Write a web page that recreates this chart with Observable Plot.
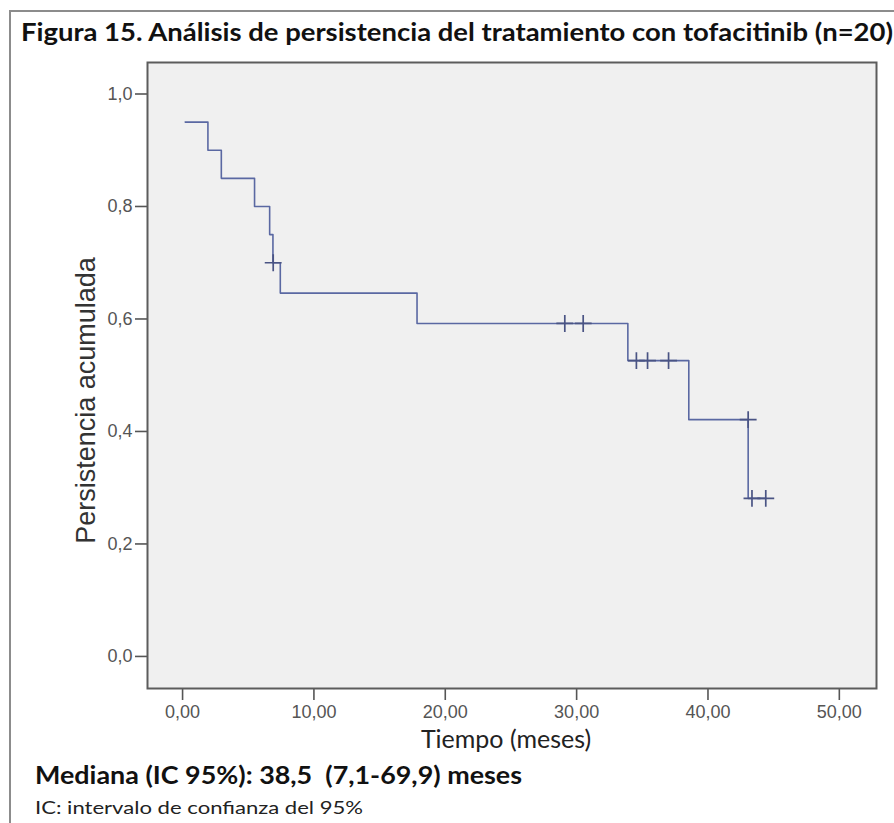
<!DOCTYPE html>
<html>
<head>
<meta charset="utf-8">
<script src="https://cdn.jsdelivr.net/npm/d3@7"></script>
<script src="https://cdn.jsdelivr.net/npm/@observablehq/plot@0.6"></script>
<style>
  html, body { margin: 0; padding: 0; background: #fff; }
  #wrap { position: relative; width: 894px; height: 823px; overflow: hidden; background: #fff; }
  #border { position: absolute; left: 9px; top: 10px; width: 900px; height: 900px;
            border-left: 2px solid #8c8c8c; border-top: 2px solid #8c8c8c; box-sizing: border-box; }
  .txt { position: absolute; white-space: pre; line-height: 1.2; transform-origin: 0 0; color: #111; font-family: Lato, "Noto Sans", sans-serif; }
  #title { left: 21px; top: 18px; font-size: 24px; font-weight: 700; }
  #median { left: 35px; top: 759px; font-size: 25px; font-weight: 700; }
  #note { left: 35px; top: 797px; font-size: 18px; font-weight: 400; color: #222; }
  #chart { position: absolute; left: 0; top: 0; }
</style>
</head>
<body>
<div id="wrap">
  <div id="border"></div>
  <div id="chart"></div>
  <div id="title" class="txt"></div>
  <div id="median" class="txt"></div>
  <div id="note" class="txt"></div>
</div>
<script>
// ---- Data ----
const titleText = "Figura 15. Análisis de persistencia del tratamiento con tofacitinib (n=20)";
const medianText = "Mediana (IC 95%): 38,5  (7,1-69,9) meses";
const noteText = "IC: intervalo de confianza del 95%";
const xLabel = "Tiempo (meses)";
const yLabel = "Persistencia acumulada";

// Kaplan-Meier step points (time in months, cumulative persistence)
const stepTime = [0.2, 1.93, 2.95, 5.48, 6.63, 6.88, 7.44, 17.85, 33.9, 38.54, 43.06, 44.4];
const stepSurv = [0.95, 0.90, 0.85, 0.80, 0.75, 0.70, 0.646, 0.592, 0.526, 0.421, 0.281, 0.281];

// Censored observations
const censorTime = [6.9, 29.1, 30.5, 34.55, 35.4, 37.0, 43.06, 43.35, 44.4];
const censorSurv = [0.70, 0.592, 0.592, 0.526, 0.526, 0.526, 0.421, 0.281, 0.281];

// Axis ticks
const xTicks = [0, 10, 20, 30, 40, 50];
const yTicks = [0, 0.2, 0.4, 0.6, 0.8, 1.0];

const steps = stepTime.map((t, i) => ({t, s: stepSurv[i]}));
const censors = censorTime.map((t, i) => ({t, s: censorSurv[i]}));

const lineColor = "#5a68a2";
const markColor = "#4a5484";
const fmtX = d => d.toFixed(2).replace(".", ",");
const fmtY = d => d.toFixed(1).replace(".", ",");

const chart = Plot.plot({
  width: 894,
  height: 823,
  marginLeft: 147,
  marginRight: 18,
  marginTop: 62,
  marginBottom: 135,
  x: {domain: [-2.67, 52.83]},
  y: {domain: [-0.057, 1.056]},
  style: {fontFamily: "'Liberation Sans', Arial, sans-serif", background: "transparent", overflow: "visible"},
  marks: [
    Plot.frame({fill: "#f0f0f0"}),
    Plot.axisX({ticks: xTicks, tickFormat: fmtX, tickSize: 12, tickPadding: 5, fontSize: 18, label: null, stroke: "#555", fill: "#555", strokeWidth: 1.6}),
    Plot.axisY({ticks: yTicks, tickFormat: fmtY, tickSize: 12, tickPadding: 3, fontSize: 18, label: null, stroke: "#555", fill: "#555", strokeWidth: 1.6}),
    Plot.line(steps, {x: "t", y: "s", curve: "step-after", stroke: lineColor, strokeWidth: 1.6}),
    Plot.dot(censors, {x: "t", y: "s", symbol: "plus", r: 5.5, stroke: markColor, strokeWidth: 1.7}),
    Plot.frame({stroke: "#5c5c5c", strokeWidth: 2}),
    Plot.text([xLabel], {frameAnchor: "bottom", lineAnchor: "middle", textAnchor: "middle", dx: -6, dy: 51, fontSize: 25, fill: "#222", fontFamily: "Lato, sans-serif", ariaLabel: "xlabel"}),
    Plot.text([yLabel], {frameAnchor: "left", lineAnchor: "middle", textAnchor: "middle", rotate: -90, dx: -61, dy: 25, fontSize: 27, fill: "#333", ariaLabel: "ylabel"})
  ]
});
document.getElementById("chart").appendChild(chart);

// fit the long labels to the reference extents
function fitSvg(sel, len) {
  const t = chart.querySelector(sel);
  if (t) { t.setAttribute("textLength", len); t.setAttribute("lengthAdjust", "spacingAndGlyphs"); }
}
fitSvg('g[aria-label="xlabel"] text', 193);
fitSvg('g[aria-label="ylabel"] text', 313);

function fitHtml(id, text, targetWidth) {
  const el = document.getElementById(id);
  el.textContent = text;
  const w = el.getBoundingClientRect().width;
  el.style.transform = `scaleX(${targetWidth / w})`;
}
fitHtml("title", titleText, 872);
fitHtml("median", medianText, 487);
fitHtml("note", noteText, 328);
</script>
</body>
</html>
